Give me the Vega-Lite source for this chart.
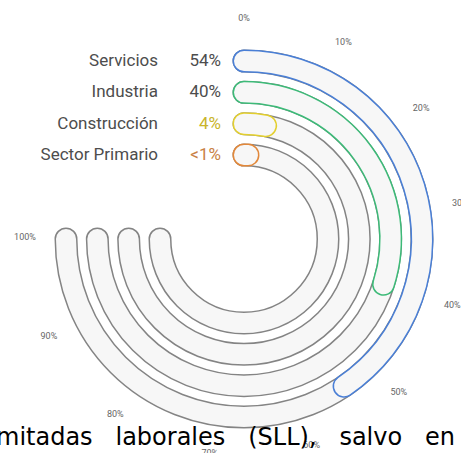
{
  "$schema": "https://vega.github.io/schema/vega-lite/v6.json",
  "width": 488,
  "height": 478,
  "padding": 0,
  "autosize": "none",
  "background": "#ffffff",
  "config": {"view": {"stroke": null}},
  "title": {
    "text": "mitadas\u00a0\u00a0\u00a0laborales\u00a0\u00a0\u00a0(SLL),\u00a0\u00a0\u00a0salvo\u00a0\u00a0\u00a0en",
    "orient": "bottom",
    "anchor": "start",
    "font": "DejaVu Sans",
    "fontSize": 24,
    "fontWeight": "normal",
    "color": "#000000",
    "baseline": "alphabetic",
    "offset": -33,
    "dx": -4
  },
  "datasets": {
    "sectors": [
      {"sector": "Servicios", "start": 0, "full": 100, "value": 54, "label": "54%"},
      {"sector": "Industria", "start": 0, "full": 100, "value": 40, "label": "40%"},
      {"sector": "Construcción", "start": 0, "full": 100, "value": 4, "label": "4%"},
      {"sector": "Sector Primario", "start": 0, "full": 100, "value": 1, "label": "<1%"}
    ],
    "ticks": [
      {"pct": 0, "lab": "0%"},
      {"pct": 10, "lab": "10%"},
      {"pct": 20, "lab": "20%"},
      {"pct": 30, "lab": "30%"},
      {"pct": 40, "lab": "40%"},
      {"pct": 50, "lab": "50%"},
      {"pct": 60, "lab": "60%"},
      {"pct": 70, "lab": "70%"},
      {"pct": 80, "lab": "80%"},
      {"pct": 90, "lab": "90%"},
      {"pct": 100, "lab": "100%"}
    ]
  },
  "resolve": {"scale": {"theta": "shared", "radius": "shared"}},
  "layer": [
    {
      "data": {"name": "sectors"},
      "mark": {"type": "arc", "filled": false, "stroke": "#848484", "strokeWidth": 23, "strokeJoin": "round", "strokeCap": "round"},
      "encoding": {
        "theta": {"field": "start", "type": "quantitative", "stack": null, "scale": {"domain": [0, 100], "range": [0, 4.71238898]}},
        "theta2": {"field": "full"},
        "radius": {"field": "sector", "type": "nominal", "scale": {"type": "point", "domain": ["Servicios", "Industria", "Construcción", "Sector Primario"], "range": [178, 84], "padding": 0}},
        "radius2": {"field": "sector"}
      }
    },
    {
      "data": {"name": "sectors"},
      "mark": {"type": "arc", "filled": false, "stroke": "#f7f7f7", "strokeWidth": 20, "strokeJoin": "round", "strokeCap": "round"},
      "encoding": {
        "theta": {"field": "start", "type": "quantitative", "stack": null},
        "theta2": {"field": "full"},
        "radius": {"field": "sector", "type": "nominal"},
        "radius2": {"field": "sector"}
      }
    },
    {
      "data": {"name": "sectors"},
      "mark": {"type": "arc", "filled": false, "strokeWidth": 23, "strokeJoin": "round", "strokeCap": "round"},
      "encoding": {
        "theta": {"field": "start", "type": "quantitative", "stack": null},
        "theta2": {"field": "value"},
        "radius": {"field": "sector", "type": "nominal"},
        "radius2": {"field": "sector"},
        "stroke": {"field": "sector", "type": "nominal", "legend": null, "scale": {"domain": ["Servicios", "Industria", "Construcción", "Sector Primario"], "range": ["#4a7fd6", "#3dba78", "#e3cf2e", "#e2883a"]}}
      }
    },
    {
      "data": {"name": "sectors"},
      "mark": {"type": "arc", "filled": false, "stroke": "#f7f7f7", "strokeWidth": 20, "strokeJoin": "round", "strokeCap": "round"},
      "encoding": {
        "theta": {"field": "start", "type": "quantitative", "stack": null},
        "theta2": {"field": "value"},
        "radius": {"field": "sector", "type": "nominal"},
        "radius2": {"field": "sector"}
      }
    },
    {
      "data": {"name": "sectors"},
      "mark": {"type": "text", "align": "right", "baseline": "middle", "dx": -86, "font": "Roboto", "fontSize": 17, "fill": "#4d4d4d"},
      "encoding": {
        "theta": {"field": "start", "type": "quantitative", "stack": null},
        "radius": {"field": "sector", "type": "nominal"},
        "text": {"field": "sector"}
      }
    },
    {
      "data": {"name": "sectors"},
      "mark": {"type": "text", "align": "right", "baseline": "middle", "dx": -23, "font": "Roboto", "fontSize": 17},
      "encoding": {
        "theta": {"field": "start", "type": "quantitative", "stack": null},
        "radius": {"field": "sector", "type": "nominal"},
        "text": {"field": "label"},
        "fill": {"field": "sector", "type": "nominal", "legend": null, "scale": {"domain": ["Servicios", "Industria", "Construcción", "Sector Primario"], "range": ["#4d4d4d", "#4d4d4d", "#c9b52c", "#c98245"]}}
      }
    },
    {
      "data": {"name": "ticks"},
      "mark": {"type": "text", "align": "center", "baseline": "middle", "radius": 219, "dy": -2, "font": "Roboto", "fontSize": 9, "fill": "#666666"},
      "encoding": {
        "theta": {"field": "pct", "type": "quantitative", "stack": null},
        "text": {"field": "lab"}
      }
    }
  ]
}
